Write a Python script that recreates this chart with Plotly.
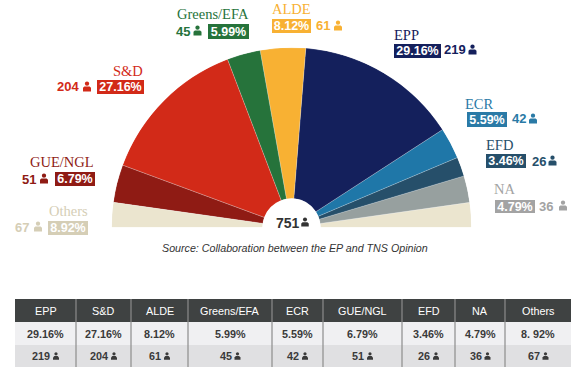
import numpy as np
import plotly.graph_objects as go

W, H = 584, 380

# Data, in table order
parties = ["EPP", "S&D", "ALDE", "Greens/EFA", "ECR", "GUE/NGL", "EFD", "NA", "Others"]
shares = [29.16, 27.16, 8.12, 5.99, 5.59, 6.79, 3.46, 4.79, 8.92]
share_labels = ["29.16%", "27.16%", "8.12%", "5.99%", "5.59%", "6.79%", "3.46%", "4.79%", "8. 92%"]
seats = [219, 204, 61, 45, 42, 51, 26, 36, 67]
total_seats = 751
source_note = "Source: Collaboration between the EP and TNS Opinion"

colors = {"EPP": "#14205c", "S&D": "#d22a18", "ALDE": "#f8b133", "Greens/EFA": "#26733b",
          "ECR": "#1f77a8", "GUE/NGL": "#8f1b14", "EFD": "#264f6a", "NA": "#97a09f", "Others": "#ebe5cf"}
label_colors = dict(colors, **{"Others": "#d5ceb6", "NA": "#a3a3a3", "ECR": "#2a7aa6", "GUE/NGL": "#8f1b14"})

# Hemicycle order from the right-hand end; Others is split between both ends
arc_order = ["Others", "NA", "EFD", "ECR", "EPP", "ALDE", "Greens/EFA", "S&D", "GUE/NGL", "Others"]
share_of = dict(zip(parties, shares))
seats_of = dict(zip(parties, seats))
arc_vals = np.array([share_of[p] / 2 if p == "Others" else share_of[p] for p in arc_order])
arc_w = arc_vals / arc_vals.sum() * 180
arc_mid = np.cumsum(arc_w) - arc_w / 2


def px(x):
    return x / W


def py(y):
    return 1 - y / H


fig = go.Figure()
fig.add_trace(go.Barpolar(
    r=[1] * len(arc_order), theta=arc_mid, width=arc_w, base=0,
    marker=dict(color=[colors[p] for p in arc_order], line=dict(color="rgba(255,255,255,0.35)", width=0.6)),
    hoverinfo="skip", showlegend=False))

cx, cy, R = 291.5, 227.5, 180
fig.update_layout(
    width=W, height=H, margin=dict(l=0, r=0, t=0, b=0), paper_bgcolor="white", plot_bgcolor="white",
    showlegend=False,
    polar=dict(
        domain=dict(x=[px(cx - R), px(cx + R)], y=[py(cy), py(cy - R)]),
        sector=[0, 180], hole=29 / R, bgcolor="white", bargap=0,
        radialaxis=dict(visible=False, range=[0, 1]),
        angularaxis=dict(visible=False, direction="counterclockwise", rotation=0),
    ),
)

shapes, annos = [], []


def icon(x, y, w, h, color):
    """Person glyph centred on pixel (x, y)."""
    r = w * 0.27
    top = y - h / 2
    shapes.append(dict(type="circle", xref="paper", yref="paper", fillcolor=color, line_width=0,
                       x0=px(x - r), x1=px(x + r), y0=py(top), y1=py(top + 2 * r), layer="above"))
    b = top + 2 * r + 0.6
    bot = y + h / 2
    path = (f"M {px(x - w / 2)} {py(bot)} L {px(x - w / 2)} {py(b + 1.4)} L {px(x - w / 2 + 1.4)} {py(b)} "
            f"L {px(x + w / 2 - 1.4)} {py(b)} L {px(x + w / 2)} {py(b + 1.4)} L {px(x + w / 2)} {py(bot)} Z")
    shapes.append(dict(type="path", xref="paper", yref="paper", path=path, fillcolor=color, line_width=0, layer="above"))


def text(x, y, s, size, color, family="Liberation Sans", anchor="left", bold=False, italic=False):
    annos.append(dict(x=px(x), y=py(y), xref="paper", yref="paper", text=s, showarrow=False,
                      xanchor=anchor, yanchor="middle", borderpad=0, borderwidth=0,
                      font=dict(family=family, size=size, color=color,
                                weight="bold" if bold else "normal", style="italic" if italic else "normal")))


def badge(x0, x1, y0, y1, s, color):
    annos.append(dict(x=px(x0), y=py((y0 + y1) / 2), xref="paper", yref="paper", text=s, showarrow=False,
                      xanchor="left", yanchor="middle", width=x1 - x0, height=y1 - y0, bgcolor=color,
                      borderpad=0, borderwidth=0, align="center", valign="middle",
                      font=dict(family="Liberation Sans", size=12.5, color="white", weight="bold")))


# (party, name x, name anchor, name y, badge x0, x1, y0, y1, seats x, seats y, icon x)
placements = [
    ("Greens/EFA", 249, "right", 14, 208, 249, 24, 39, 176, 31, 197.5),
    ("S&D", 143, "right", 71, 97, 144, 80, 94, 57, 87, 87),
    ("ALDE", 272, "left", 9, 272, 311, 19, 33, 316, 26, 338),
    ("EPP", 394, "left", 35, 394, 441, 44, 58, 444, 50, 472.5),
    ("ECR", 465, "left", 104, 467, 507, 112, 127, 512, 119, 533),
    ("EFD", 486, "left", 145, 486, 526, 154, 168, 532, 161, 552.5),
    ("NA", 494, "left", 189, 495, 535, 200, 213, 539, 206, 563),
    ("GUE/NGL", 94, "right", 162, 55, 95, 172, 186, 22, 179, 44),
    ("Others", 88, "right", 211, 48, 88, 221, 235, 15, 227, 38),
]
share_text = dict(zip(parties, shares))
for p, nx, na, ny, b0, b1, by0, by1, sx, sy, ix in placements:
    c = label_colors[p]
    text(nx, ny, p, 14.5, c, family="Liberation Serif", anchor=na)
    badge(b0, b1, by0, by1, f"{share_text[p]:.2f}%", c)
    text(sx, sy, str(seats_of[p]), 13, c, bold=True)
    icon(ix, sy - 0.5, 8, 10, c)

# Centre count and source note
text(299.5, 223, str(total_seats), 14, "#333333", anchor="right", bold=True)
icon(305, 222, 7.5, 9, "#333333")
text(295, 248, source_note, 10.7, "#333333", anchor="center", italic=True)

# Table, drawn from the data
col_edges = [15, 76, 131, 188, 272, 323, 402, 455, 505, 571]
row_edges = [299, 322, 345, 367]
row_fills = ["#3f4242", "#f0f0f2", "#e0e0e2"]
for fill, y0, y1 in zip(row_fills, row_edges[:-1], row_edges[1:]):
    shapes.append(dict(type="rect", xref="paper", yref="paper", x0=px(col_edges[0]), x1=px(col_edges[-1]),
                       y0=py(y1), y1=py(y0), fillcolor=fill, line_width=0, layer="below"))
for e in col_edges[1:-1]:
    shapes.append(dict(type="line", xref="paper", yref="paper", x0=px(e), x1=px(e),
                       y0=py(row_edges[0]), y1=py(row_edges[-1]), line=dict(color="#8c8c8c", width=1.2), layer="above"))
for i, (name, lab, v) in enumerate(zip(parties, share_labels, seats)):
    c = (col_edges[i] + col_edges[i + 1]) / 2
    text(c, 310.5, name, 10.8, "white", anchor="center")
    text(c, 333.5, lab, 10.8, "#3a3a3a", anchor="center", bold=True)
    digits = len(str(v)) * 6
    left = c - (digits + 9) / 2
    text(left, 356, str(v), 10.8, "#3a3a3a", bold=True)
    icon(left + digits + 6, 356, 6, 7.5, "#3a3a3a")

fig.update_layout(shapes=shapes, annotations=annos)
fig.write_html("out.html", config=dict(displayModeBar=False),
               post_script="document.body.style.margin='0';document.body.style.overflow='hidden';")
